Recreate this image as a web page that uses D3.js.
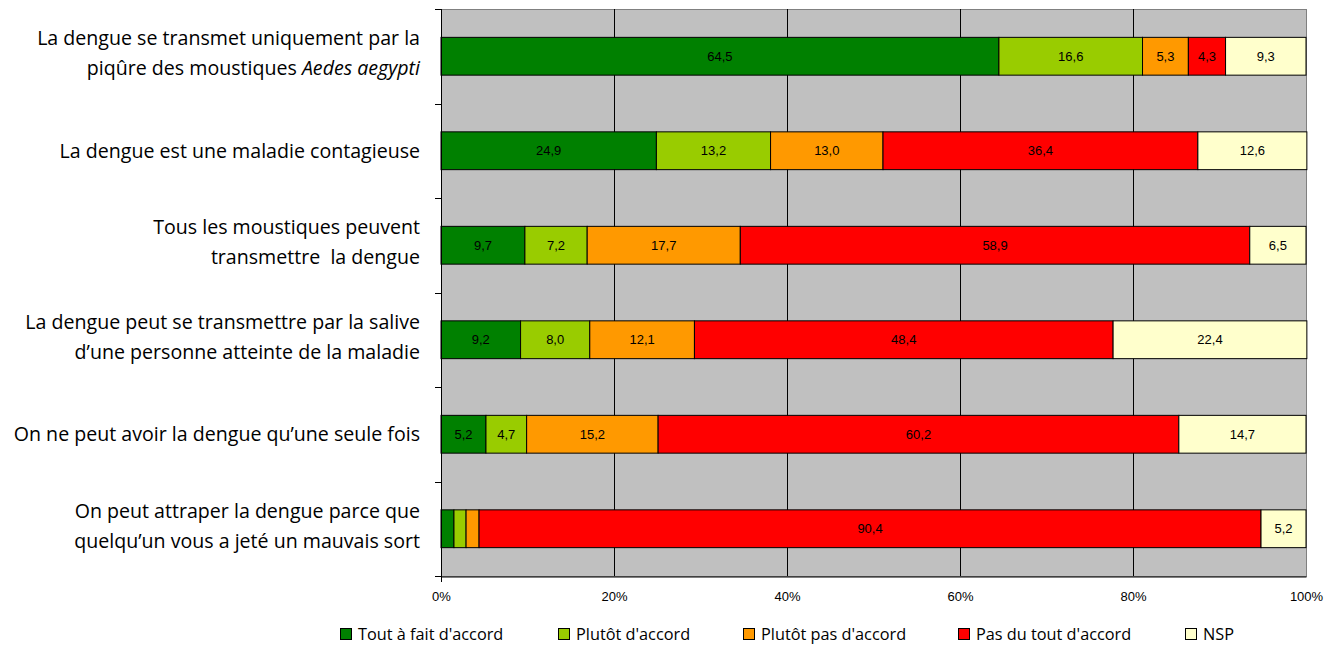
<!DOCTYPE html>
<html>
<head>
<meta charset="utf-8">
<script src="https://cdn.jsdelivr.net/npm/d3@7/dist/d3.min.js"></script>
<style>
  body { margin: 0; background: #fff; }
  svg { display: block; }
</style>
</head>
<body>
<div id="chart"></div>
<script>
// data
var questions = [
  [["La dengue se transmet uniquement par la", ""], ["piqûre des moustiques ", "Aedes aegypti"]],
  [["La dengue est une maladie contagieuse", ""]],
  [["Tous les moustiques peuvent", ""], ["transmettre\u00a0 la dengue", ""]],
  [["La dengue peut se transmettre par la salive", ""], ["d\u2019une personne atteinte de la maladie", ""]],
  [["On ne peut avoir la dengue qu\u2019une seule fois", ""]],
  [["On peut attraper la dengue parce que", ""], ["quelqu\u2019un vous a jeté un mauvais sort", ""]]
];
var answers = ["Tout à fait d'accord", "Plutôt d'accord", "Plutôt pas d'accord", "Pas du tout d'accord", "NSP"];
var toutAFait   = [64.5, 24.9, 9.7, 9.2, 5.2, 1.5];
var plutot      = [16.6, 13.2, 7.2, 8.0, 4.7, 1.4];
var plutotPas   = [5.3, 13.0, 17.7, 12.1, 15.2, 1.5];
var pasDuTout   = [4.3, 36.4, 58.9, 48.4, 60.2, 90.4];
var nsp         = [9.3, 12.6, 6.5, 22.4, 14.7, 5.2];
var xTicks = [0, 20, 40, 60, 80, 100];

(function() {
var colors = ["#008000", "#99CC00", "#FF9900", "#FF0000", "#FFFFCC"];
var series = [toutAFait, plutot, plutotPas, pasDuTout, nsp];

var W = 1336, H = 646;
var pLeft = 441, pRight = 1306, pTop = 9, pBottom = 576;

var svg = d3.select("#chart").append("svg").attr("width", W).attr("height", H);

var x = d3.scaleLinear().domain([0, 100]).range([pLeft, pRight]);
var y = d3.scaleBand().domain(d3.range(questions.length)).range([pTop, pBottom]).paddingInner(0.6).paddingOuter(0.3);
var yb = d3.scaleBand().domain(d3.range(questions.length)).range([pTop, pBottom]);

// plot background
svg.append("rect").attr("x", pLeft + 0.5).attr("y", pTop + 0.5).attr("width", pRight - pLeft).attr("height", pBottom - pTop)
  .attr("fill", "#C0C0C0").attr("stroke", "#808080").attr("stroke-width", 1);

// grid
svg.selectAll(".grid").data(xTicks.slice(1, -1)).enter().append("line")
  .attr("x1", function(d){ return Math.round(x(d)) + 0.5; }).attr("x2", function(d){ return Math.round(x(d)) + 0.5; })
  .attr("y1", pTop).attr("y2", pBottom).attr("stroke", "#000").attr("stroke-width", 1);

// stacked bars
var segs = [];
questions.forEach(function(q, i) {
  var acc = 0;
  series.forEach(function(s, k) {
    segs.push({ row: i, k: k, x0: acc, v: s[i] });
    acc += s[i];
  });
});

svg.selectAll(".bar").data(segs).enter().append("rect")
  .attr("x", function(d){ return x(d.x0); })
  .attr("y", function(d){ return y(d.row); })
  .attr("width", function(d){ return x(d.x0 + d.v) - x(d.x0); })
  .attr("height", y.bandwidth())
  .attr("fill", function(d){ return colors[d.k]; })
  .attr("stroke", "#000").attr("stroke-width", 1);

svg.selectAll(".val").data(segs.filter(function(d){ return d.v >= 3; })).enter().append("text")
  .attr("x", function(d){ return x(d.x0 + d.v / 2); })
  .attr("y", function(d){ return y(d.row) + y.bandwidth() / 2; })
  .attr("dy", "0.36em").attr("text-anchor", "middle")
  .attr("font-family", "Liberation Sans, Arial, sans-serif").attr("font-size", 13)
  .text(function(d){ return d3.format(".1f")(d.v).replace(".", ","); });

// left axis with ticks between categories
svg.append("line").attr("x1", pLeft + 0.5).attr("x2", pLeft + 0.5).attr("y1", pTop).attr("y2", pBottom + 6)
  .attr("stroke", "#000");
svg.selectAll(".ytick").data(d3.range(questions.length + 1)).enter().append("line")
  .attr("x1", pLeft - 6).attr("x2", pLeft)
  .attr("y1", function(d){ return Math.round(pTop + d * yb.step()) + 0.5; })
  .attr("y2", function(d){ return Math.round(pTop + d * yb.step()) + 0.5; })
  .attr("stroke", "#000");

// bottom axis
var xAxis = d3.axisBottom(x).tickValues(xTicks).tickSize(0).tickPadding(15)
  .tickFormat(function(d){ return d + "%"; });
var gx = svg.append("g").attr("transform", "translate(0," + (pBottom + 0.5) + ")").call(xAxis);
gx.select(".domain").attr("stroke", "#000");
gx.selectAll("text").attr("font-family", "Liberation Sans, Arial, sans-serif").attr("font-size", 13).attr("fill", "#000");

// category labels
var lineH = 30;
questions.forEach(function(q, i) {
  var cy = y(i) + y.bandwidth() / 2;
  var t = svg.append("text").attr("text-anchor", "end")
    .attr("font-family", "Open Sans, sans-serif").attr("font-size", 19.6).attr("fill", "#000");
  q.forEach(function(line, j) {
    var yy = cy + (j - (q.length - 1) / 2) * lineH - (q.length > 1 ? 3 : 0);
    t.append("tspan").attr("x", 420).attr("y", yy).attr("dy", "0.35em").text(line[0]);
    if (line[1]) t.append("tspan").attr("font-style", "italic").text(line[1]);
  });
});

// legend
var legX = [340, 558, 743, 958, 1185];
var leg = svg.selectAll(".leg").data(answers).enter().append("g")
  .attr("transform", function(d, i){ return "translate(" + legX[i] + ",634)"; });
leg.append("rect").attr("x", 0.5).attr("y", -5.5).attr("width", 11).attr("height", 11)
  .attr("fill", function(d, i){ return colors[i]; }).attr("stroke", "#000");
leg.append("text").attr("x", 18).attr("y", 0).attr("dy", "0.35em")
  .attr("font-family", "Open Sans, sans-serif").attr("font-size", 16.3).attr("fill", "#000")
  .text(function(d){ return d; });
})();
</script>
</body>
</html>
